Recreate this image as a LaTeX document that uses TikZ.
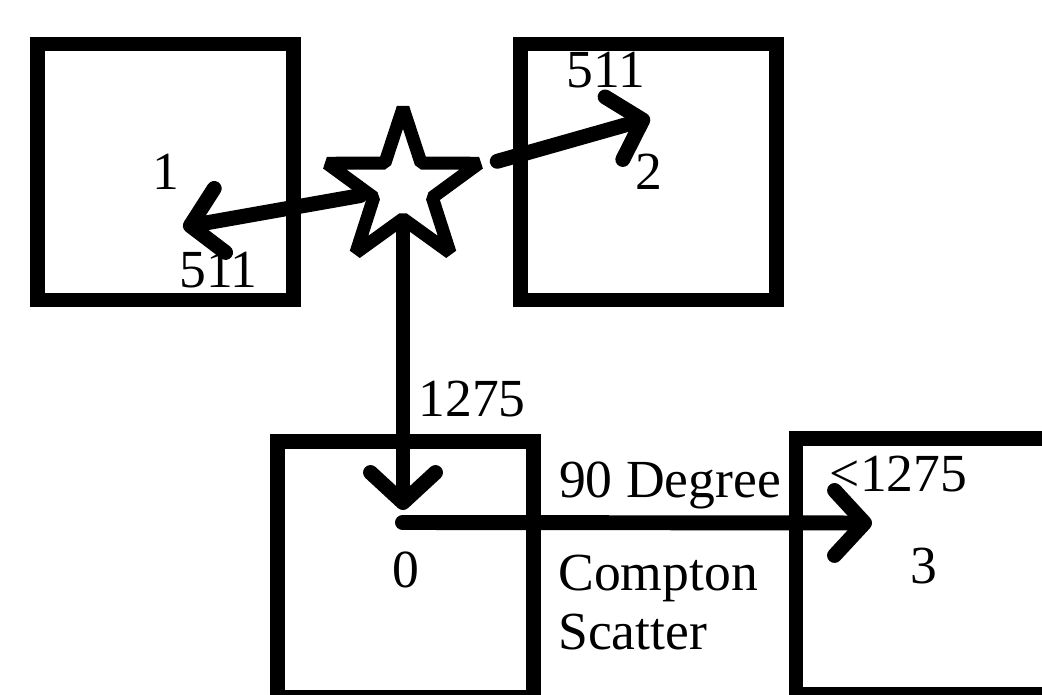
\documentclass[tikz,border=0pt]{standalone}
\usepackage{fontspec}
\setmainfont{Liberation Serif}
\usetikzlibrary{arrows.meta,shapes.geometric,backgrounds}
\newcommand\lblfont{\fontsize{30.5pt}{34pt}\selectfont}
\tikzset{
  det/.style={draw, line width=8.5pt, minimum width=5.12cm, minimum height=5.12cm,
              inner sep=0pt, outer sep=0pt, font=\lblfont},
  ray/.style={line width=8.5pt, line cap=round,
              -{Straight Barb[length=6mm, width=13mm, round]}},
  tag/.style={font=\lblfont, inner sep=0pt, anchor=base},
}
\begin{document}
\begin{tikzpicture}[x=0.02cm, y=-0.02cm]
\useasboundingbox (0,0) rectangle (1042,695);
\clip (0,0) rectangle (1042,695);
% detectors
\node[det] (d1) at (165.5,172) {1};
\node[det] (d2) at (648.5,172) {2};
\node[det] (d0) at (405.5,569.5) {0};
\node[det] (d3) at (924,566.5) {3};
% source
\node[star, star points=5, star point ratio=2.6, minimum size=3.2cm, inner sep=0pt,
      draw, fill=white, line width=7.4pt, line join=bevel] (src) at (403,188) {};

\coordinate (hit1) at (183,227);
\coordinate (hit2) at (650,118);
\coordinate (hit0) at (403,510);
\coordinate (scat) at (402.5,522.5);
\coordinate (hit3) at (872,523);

\begin{scope}[on background layer]
\draw[ray] (src) -- (hit1);
\draw[ray, shorten <=0.15cm] (src) -- (hit2);
\draw[ray] (src) -- (hit0);
\end{scope}
\draw[ray] (scat) -- (hit3);

% energies
\node[tag] (e1) at (218.5,288) {511};
\node[tag] (e2) at (606,88) {511};
\node[tag] (e0) at (472,417) {1275};
\node[tag] (ang) at (670,498) {90 Degree};
\node[tag] (e3) at (898.5,492) {\textless 1275};
\node[tag, anchor=base west, align=left] (cs) at (558,650) {Compton\\Scatter};
\end{tikzpicture}
\end{document}
